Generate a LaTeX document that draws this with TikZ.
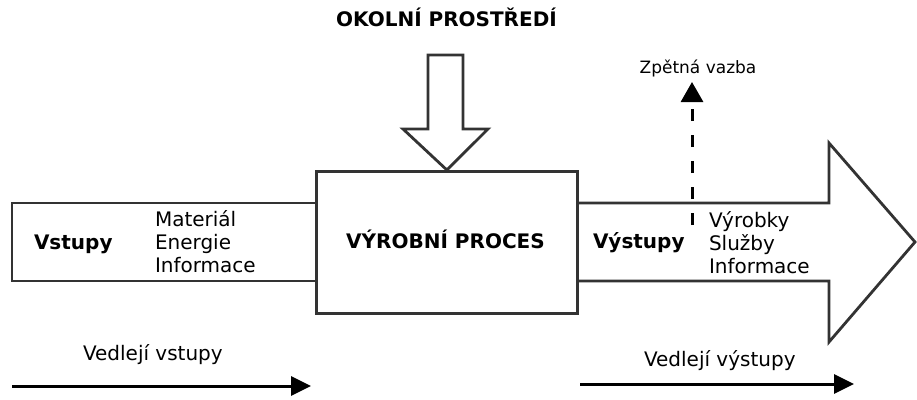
\documentclass[tikz,border=0pt]{standalone}
\usepackage{fontspec}
\setmainfont{DejaVu Sans}
\usetikzlibrary{arrows.meta}
\definecolor{edge}{HTML}{333333}
\tikzset{
  shapeline/.style={draw=edge, line width=2.8pt, line join=miter, fill=white},
  lbl/.style={inner sep=0pt, outer sep=0pt, font=\fontsize{20}{23}\selectfont, text=black},
  blbl/.style={lbl, font=\fontsize{20}{23}\selectfont\bfseries},
  smalllbl/.style={inner sep=0pt, outer sep=0pt, font=\fontsize{17}{20}\selectfont, text=black},
  sidearrow/.style={line width=3pt, -{Triangle[length=20pt,width=19pt]}},
  feedback/.style={line width=3pt, dash pattern=on 12pt off 14pt, -{Triangle[length=20pt,width=22pt]}}
}
\begin{document}
\begin{tikzpicture}[x=1pt,y=-1pt]
\useasboundingbox (0,0) rectangle (917,399);
% input band
\draw[shapeline] (315,203) -- (12,203) -- (12,281) -- (315,281);
% output arrow
\draw[shapeline] (576,203) -- (829,203) -- (829,143) -- (915,242) -- (829,342) -- (829,281) -- (576,281);
% main box
\node[shapeline, minimum width=261pt, minimum height=142pt, inner sep=0pt, anchor=north west] (box) at (315,170) {};
% environment arrow
\draw[shapeline] (428,55) -- (463,55) -- (463,129) -- (488,129) -- (box.north) -- (403,129) -- (428,129) -- cycle;
% texts
\node[blbl, anchor=base] (title) at (446.5,26) {OKOLNÍ PROSTŘEDÍ};
\node[blbl, anchor=base] (proc) at (445.5,248) {VÝROBNÍ PROCES};
\node[blbl, anchor=base west] (in) at (34,249) {Vstupy};
\node[lbl, anchor=base west] (in1) at (155,226) {Materiál};
\node[lbl, anchor=base west] (in2) at (155,249) {Energie};
\node[lbl, anchor=base west] (in3) at (155,272) {Informace};
\node[blbl, anchor=base west] (out) at (593,248) {Výstupy};
\node[lbl, anchor=base west] (out1) at (709,227) {Výrobky};
\node[lbl, anchor=base west] (out2) at (709,250) {Služby};
\node[lbl, anchor=base west] (out3) at (709,273) {Informace};
\node[smalllbl, anchor=base] (fb) at (698,73) {Zpětná vazba};
\node[lbl, anchor=base west] (sidein) at (83,360) {Vedlejí vstupy};
\node[lbl, anchor=base west] (sideout) at (644,366) {Vedlejí výstupy};
% feedback
\coordinate (fbstart) at (692,225);
\coordinate (fbend) at (692,82);
\draw[feedback] (fbstart) -- (fbend);
% side arrows
\coordinate (si0) at (12,386);
\coordinate (si1) at (311,386);
\coordinate (so0) at (580,384);
\coordinate (so1) at (854,384);
\draw[sidearrow] (si0) -- (si1);
\draw[sidearrow] (so0) -- (so1);
\end{tikzpicture}
\end{document}
